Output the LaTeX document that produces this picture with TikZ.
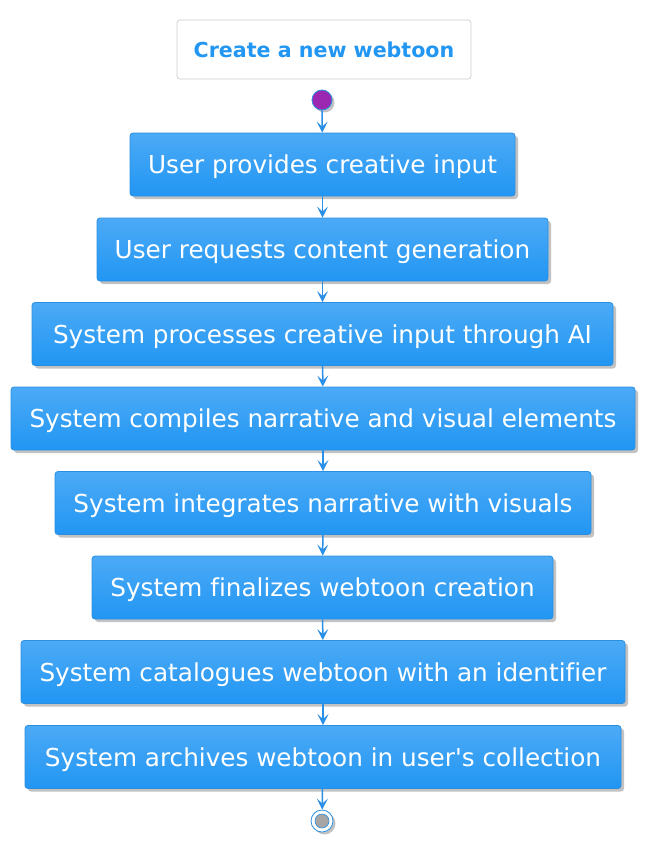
\documentclass[tikz,border=0pt]{standalone}
\usepackage{fontspec}
\setmainfont{DejaVu Sans}[Ligatures={NoCommon}]
\usetikzlibrary{arrows.meta,shadows}
\definecolor{boxtop}{HTML}{4CAAF6}
\definecolor{boxbot}{HTML}{2196F3}
\definecolor{boxline}{HTML}{2A8FE0}
\definecolor{arrowc}{HTML}{2A8FE6}
\definecolor{startc}{HTML}{9C27B0}
\definecolor{titleline}{HTML}{CCCCCC}
\tikzset{
  x=1pt,y=-1pt,
  stepbox/.style={rectangle, rounded corners=3pt, draw=boxline, line width=0.8pt,
    top color=boxtop, bottom color=boxbot, text=white,
    font=\fontsize{24.7}{28}\selectfont, minimum height=63pt, inner xsep=6pt,
    text depth=0pt,
    drop shadow={shadow xshift=3pt, shadow yshift=-3pt, fill=black!40, opacity=0.6}},
  titlebox/.style={rectangle, rounded corners=3pt, draw=titleline, line width=0.7pt,
    fill=white, text=boxbot, font=\bfseries\fontsize{20.6}{24}\selectfont,
    minimum width=294pt, minimum height=59pt},
  flow/.style={draw=arrowc, line width=1.5pt, -{Stealth[length=11pt,width=11pt,inset=5pt]}},
}
\begin{document}
\begin{tikzpicture}
\useasboundingbox (0,0) rectangle (651,848);
\node[titlebox] (title) at (324,49.5) {Create a new webtoon};
\node[circle, fill=startc, draw=boxline, line width=0.8pt, minimum size=20pt, inner sep=0pt,
  drop shadow={shadow xshift=2.5pt, shadow yshift=-2.5pt, fill=black!40, opacity=0.6}] (start) at (322,100) {};
\node[stepbox, minimum width=385pt] (b1) at (322.5,164.5) {User provides creative input};
\node[stepbox, minimum width=451pt] (b2) at (322.5,249.5) {User requests content generation};
\node[stepbox, minimum width=581pt] (b3) at (322.5,334) {System processes creative input through AI};
\node[stepbox, minimum width=624pt] (b4) at (323,418.5) {System compiles narrative and visual elements};
\node[stepbox, minimum width=536pt] (b5) at (323,503) {System integrates narrative with visuals};
\node[stepbox, minimum width=461pt] (b6) at (322.5,587.5) {System finalizes webtoon creation};
\node[stepbox, minimum width=604pt] (b7) at (323,672) {System catalogues webtoon with an identifier};
\node[stepbox, minimum width=596pt] (b8) at (323,757) {System archives webtoon in user\textquotesingle s collection};
\node[circle, fill=white, draw=boxline, line width=0.8pt, minimum size=22pt, inner sep=0pt,
  drop shadow={shadow xshift=2.5pt, shadow yshift=-2.5pt, fill=black!40, opacity=0.6}] (stop) at (322,821) {};
\node[circle, fill=black!35, draw=boxline, line width=0.6pt, minimum size=14pt, inner sep=0pt] (stopin) at (stop.center) {};
\draw[flow] (start) -- (b1);
\draw[flow] (b1) -- (b2);
\draw[flow] (b2) -- (b3);
\draw[flow] (b3) -- (b4);
\draw[flow] (b4) -- (b5);
\draw[flow] (b5) -- (b6);
\draw[flow] (b6) -- (b7);
\draw[flow] (b7) -- (b8);
\draw[flow] (b8) -- (stop);
\end{tikzpicture}
\end{document}
